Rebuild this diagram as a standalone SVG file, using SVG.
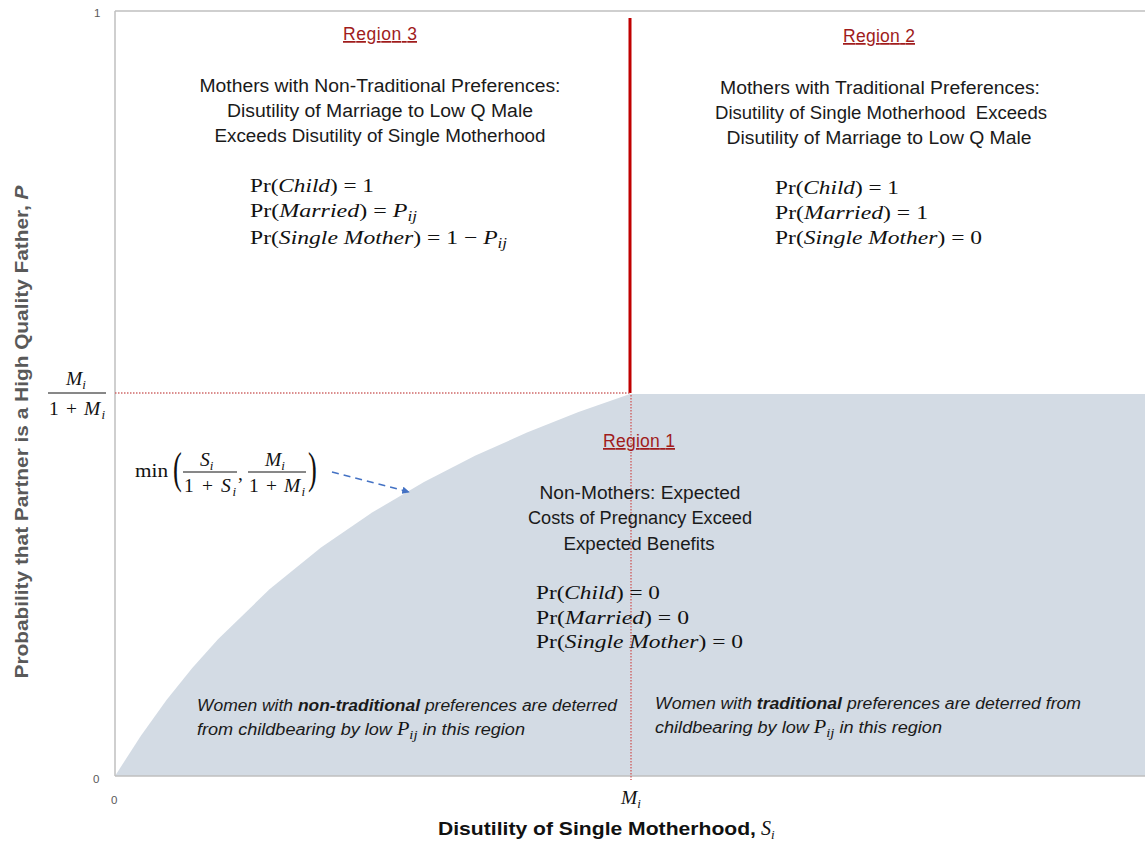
<svg xmlns="http://www.w3.org/2000/svg" width="1145" height="842" viewBox="0 0 1145 842">
<defs>
<style>
.sans{font-family:"Liberation Sans",Arial,sans-serif;}
.body{font-family:"Liberation Sans",Arial,sans-serif;font-size:18px;fill:#1a1a1a;text-anchor:middle;}
.title{font-family:"Liberation Sans",Arial,sans-serif;font-size:17.5px;fill:#a01c1c;text-anchor:middle;text-decoration:underline;}
.math{font-family:"Liberation Serif","Times New Roman",serif;font-size:19.5px;fill:#111;}
.it{font-style:italic;}
.sub{font-size:13px;}
.note{font-family:"Liberation Sans",Arial,sans-serif;font-size:16px;font-style:italic;fill:#1a1a1a;}
.tick{font-family:"Liberation Sans",Arial,sans-serif;font-size:11.5px;fill:#595959;}
.dot{stroke:#d06a6a;stroke-width:1.5;stroke-dasharray:1.5 1.5;fill:none;}
.axis{stroke:#bfbfbf;stroke-width:1.5;fill:none;}
</style>
<marker id="ah" viewBox="0 0 10 10" refX="9" refY="5" markerWidth="5" markerHeight="5" orient="auto">
<path d="M0,0 L10,5 L0,10 z" fill="#4472c4"/>
</marker>
</defs>
<rect width="1145" height="842" fill="#fff"/>

<g id="fill-region1">
<path d="M115,776 L140.75,735.9 L166.5,700.1 L192.25,668.1 L218,639.3 L269.5,589.3 L321,547.6 L372.5,512.3 L424,481.9 L475.5,455.6 L527,432.5 L578.5,412.1 L630,394 L1145,394 L1145,776 Z" fill="#d3dbe4"/>
</g>

<g id="axes">
<line class="axis" x1="115" y1="11" x2="1145" y2="11"/>
<line class="axis" x1="115" y1="11" x2="115" y2="776"/>
<line class="axis" x1="115" y1="776" x2="1145" y2="776"/>
<text class="tick" x="94" y="17">1</text>
<text class="tick" x="93" y="783">0</text>
<text class="tick" x="111" y="804">0</text>
</g>

<g id="boundaries">
<line x1="630" y1="18" x2="630" y2="393" stroke="#c00000" stroke-width="3"/>
<line class="dot" x1="115" y1="393" x2="630" y2="393"/>
<line class="dot" x1="631" y1="395" x2="631" y2="780"/>
</g>

<g id="y-axis-label">
<text class="sans" transform="translate(28,432) rotate(-90)" text-anchor="middle" font-size="19" font-weight="bold" fill="#595959" textLength="493" lengthAdjust="spacingAndGlyphs">Probability that Partner is a High Quality Father, <tspan font-style="italic">P</tspan></text>
</g>

<g id="x-axis-label">
<text class="sans" x="438" y="835" font-size="19" font-weight="bold" fill="#111" textLength="318" lengthAdjust="spacingAndGlyphs">Disutility of Single Motherhood,</text>
<text class="math it" x="761" y="835" style="font-size:20px">S<tspan class="sub" dy="4">i</tspan></text>
<text class="math it" x="621" y="804">M<tspan class="sub" dy="4">i</tspan></text>
</g>

<g id="y-threshold-label">
<text class="math it" x="66" y="385">M<tspan class="sub" dy="4">i</tspan></text>
<line x1="48" y1="393" x2="106" y2="393" stroke="#111" stroke-width="1"/>
<text class="math" x="49" y="415" textLength="56">1 + <tspan class="it">M</tspan><tspan class="it sub" dy="4">i</tspan></text>
</g>

<g id="curve-label">
<text class="math" x="135" y="477" textLength="33" lengthAdjust="spacingAndGlyphs">min</text>
<text class="math" x="173" y="483" style="font-size:44px" transform="translate(173,0) scale(0.6,1) translate(-173,0)">(</text>
<text class="math it" x="200" y="466">S<tspan class="sub" dy="4">i</tspan></text>
<line x1="183" y1="472" x2="237" y2="472" stroke="#111" stroke-width="1"/>
<text class="math" x="184" y="492" textLength="52">1 + <tspan class="it">S</tspan><tspan class="it sub" dy="4">i</tspan></text>
<text class="math" x="238" y="480">,</text>
<text class="math it" x="265" y="466">M<tspan class="sub" dy="4">i</tspan></text>
<line x1="248" y1="472" x2="306" y2="472" stroke="#111" stroke-width="1"/>
<text class="math" x="249" y="492" textLength="56">1 + <tspan class="it">M</tspan><tspan class="it sub" dy="4">i</tspan></text>
<text class="math" x="308" y="483" style="font-size:44px" transform="translate(308,0) scale(0.6,1) translate(-308,0)">)</text>
</g>

<g id="connectors">
<line x1="332" y1="472" x2="409" y2="492" stroke="#4472c4" stroke-width="1.5" stroke-dasharray="7 5" marker-end="url(#ah)"/>
</g>

<g id="region3">
<text class="title" x="380" y="40" textLength="74">Region 3</text>
<text class="body" x="380" y="92" textLength="361" lengthAdjust="spacingAndGlyphs">Mothers with Non-Traditional Preferences:</text>
<text class="body" x="380" y="117" textLength="306" lengthAdjust="spacingAndGlyphs">Disutility of Marriage to Low Q Male</text>
<text class="body" x="380" y="142" textLength="331" lengthAdjust="spacingAndGlyphs">Exceeds Disutility of Single Motherhood</text>
<text class="math" x="250" y="192" textLength="124" lengthAdjust="spacingAndGlyphs">Pr(<tspan class="it">Child</tspan>) = 1</text>
<text class="math" x="250" y="217" textLength="167" lengthAdjust="spacingAndGlyphs">Pr(<tspan class="it">Married</tspan>) = <tspan class="it">P</tspan><tspan class="it" style="font-size:14px" dy="4">ij</tspan></text>
<text class="math" x="250" y="244" textLength="257" lengthAdjust="spacingAndGlyphs">Pr(<tspan class="it">Single Mother</tspan>) = 1 − <tspan class="it">P</tspan><tspan class="it" style="font-size:14px" dy="4">ij</tspan></text>
</g>

<g id="region2">
<text class="title" x="879" y="42" textLength="72">Region 2</text>
<text class="body" x="880" y="94" textLength="320" lengthAdjust="spacingAndGlyphs">Mothers with Traditional Preferences:</text>
<text class="body" x="881" y="119" textLength="332" lengthAdjust="spacingAndGlyphs">Disutility of Single Motherhood&#160; Exceeds</text>
<text class="body" x="879" y="144" textLength="305" lengthAdjust="spacingAndGlyphs">Disutility of Marriage to Low Q Male</text>
<text class="math" x="775" y="194" textLength="124" lengthAdjust="spacingAndGlyphs">Pr(<tspan class="it">Child</tspan>) = 1</text>
<text class="math" x="775" y="219" textLength="153" lengthAdjust="spacingAndGlyphs">Pr(<tspan class="it">Married</tspan>) = 1</text>
<text class="math" x="775" y="244" textLength="207" lengthAdjust="spacingAndGlyphs">Pr(<tspan class="it">Single Mother</tspan>) = 0</text>
</g>

<g id="region1">
<text class="title" x="639" y="447" textLength="72">Region 1</text>
<text class="body" x="640" y="499" textLength="201" lengthAdjust="spacingAndGlyphs">Non-Mothers: Expected</text>
<text class="body" x="640" y="524" textLength="224" lengthAdjust="spacingAndGlyphs">Costs of Pregnancy Exceed</text>
<text class="body" x="639" y="550" textLength="151" lengthAdjust="spacingAndGlyphs">Expected Benefits</text>
<text class="math" x="536" y="599" textLength="124" lengthAdjust="spacingAndGlyphs">Pr(<tspan class="it">Child</tspan>) = 0</text>
<text class="math" x="536" y="624" textLength="153" lengthAdjust="spacingAndGlyphs">Pr(<tspan class="it">Married</tspan>) = 0</text>
<text class="math" x="536" y="648" textLength="207" lengthAdjust="spacingAndGlyphs">Pr(<tspan class="it">Single Mother</tspan>) = 0</text>
</g>

<g id="note-nontraditional">
<text class="note" x="197" y="711" textLength="420" lengthAdjust="spacingAndGlyphs">Women with <tspan font-weight="bold">non-traditional</tspan> preferences are deterred</text>
<text class="note" x="197" y="735" textLength="328" lengthAdjust="spacingAndGlyphs">from childbearing by low <tspan class="math" style="font-size:18px">P</tspan><tspan class="math" style="font-size:13px" dy="4">ij</tspan><tspan dy="-4"> in this region</tspan></text>
</g>

<g id="note-traditional">
<text class="note" x="655" y="709" textLength="426" lengthAdjust="spacingAndGlyphs">Women with <tspan font-weight="bold">traditional</tspan> preferences are deterred from</text>
<text class="note" x="655" y="733" textLength="287" lengthAdjust="spacingAndGlyphs">childbearing by low <tspan class="math" style="font-size:18px">P</tspan><tspan class="math" style="font-size:13px" dy="4">ij</tspan><tspan dy="-4"> in this region</tspan></text>
</g>
</svg>
